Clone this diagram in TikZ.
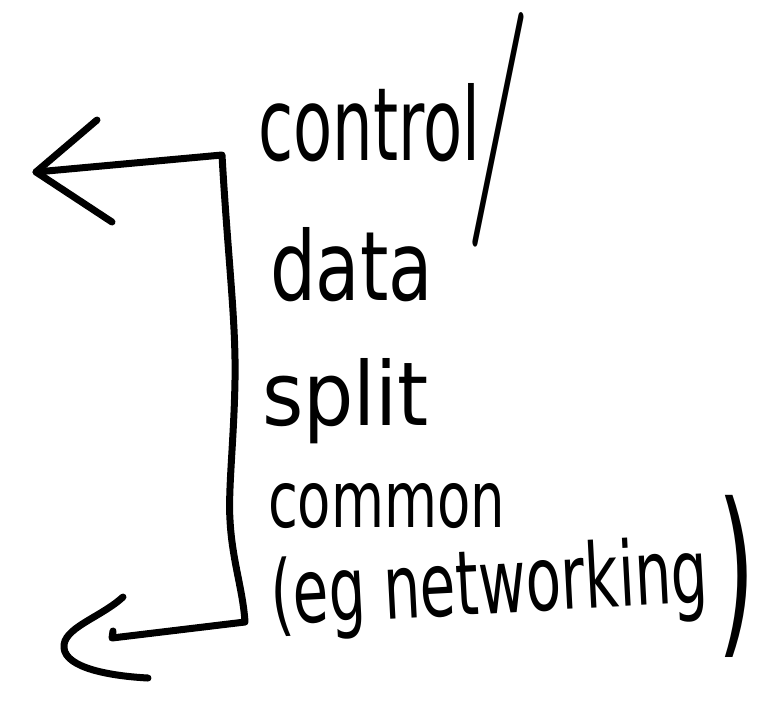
\documentclass[tikz,border=0pt]{standalone}
\usepackage{fontspec}
\setmainfont{DejaVu Sans}
\newfontfamily\slimfont{Latin Modern Roman}
\usepackage{graphicx}
\tikzset{
  pen/.style={line width=7pt, line cap=round, line join=round},
  hand/.style={inner sep=0pt, outer sep=0pt, anchor=base west},
}
\begin{document}
\begin{tikzpicture}[x=1pt,y=-1pt]
  \useasboundingbox (0,0) rectangle (781,716);
  \fill[white] (0,0) rectangle (781,716);

  % the list of words
  \node[hand] (ctrl)   at (258,160) {\resizebox{222pt}{77pt}{control}};
  \node[inner sep=0pt] (slash) at (498,130) {\resizebox{66pt}{176pt}{\slimfont /}};
  \node[hand] (data)   at (270,300) {\resizebox{163pt}{73pt}{data}};
  \node[hand] (split)  at (262,425) {\resizebox{167pt}{67pt}{split}};
  \node[hand] (common) at (268,527) {\resizebox{237pt}{44pt}{common}};
  \node[hand, rotate=3] (eg) at (272,625) {\resizebox{438pt}{68pt}{(eg networking}};
  \node[inner sep=0pt] (close) at (737,576) {\resizebox{38pt}{138pt}{)}};

  % bracket end points
  \coordinate (tTip)    at (36,172);
  \coordinate (tCorner) at (222,155);
  \coordinate (bCorner) at (245,622);
  \coordinate (bTip)    at (64,648);

  % bracket: top shaft, long side, bottom shaft
  \draw[pen] (tTip) -- (tCorner)
    .. controls (228,260) and (236,320) .. (235,380)
    .. controls (234,440) and (228,490) .. (230,520)
    .. controls (232,560) and (243,590) .. (bCorner)
    -- (112,638) -- (113,631);

  % arrow heads
  \draw[pen] (97,120) -- (tTip) -- (112,222);
  \draw[pen] (123,597) .. controls (100,618) and (62,628) .. (bTip)
    .. controls (66,668) and (110,676) .. (148,678);
\end{tikzpicture}
\end{document}
